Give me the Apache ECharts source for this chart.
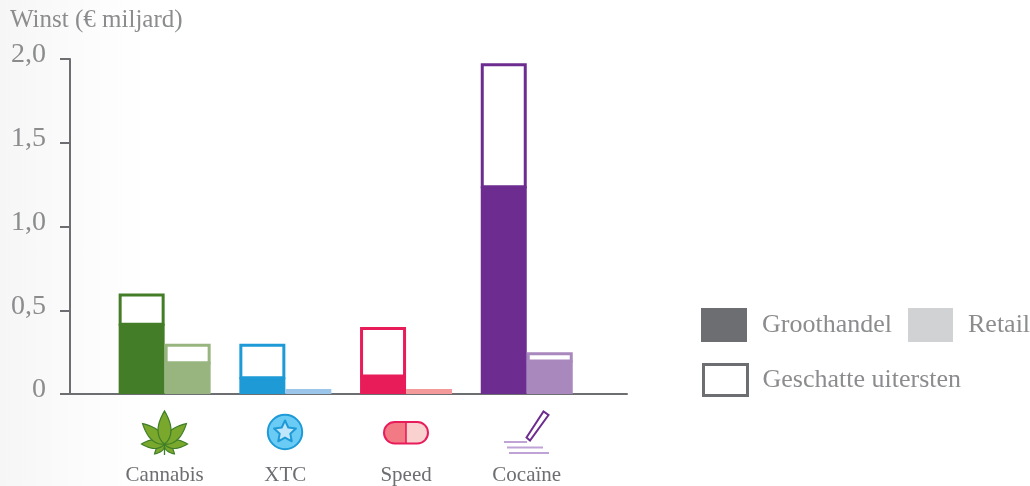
<!DOCTYPE html>
<html><head><meta charset="utf-8">
<style>html,body{margin:0;padding:0;background:linear-gradient(to right,#f6f6f6 0,#fcfcfc 90px,#fff 150px)}#c{width:1030px;height:486px}</style>
<script src="https://cdn.jsdelivr.net/npm/echarts@6/dist/echarts.min.js"></script>
</head><body><div id="c"></div>
<script>
const categories = ['Cannabis','XTC','Speed','Cocaïne'];
const wholesaleLow  = [0.42,0.10,0.11,1.24];
const wholesaleHigh = [0.60,0.30,0.40,1.975];
const retailLow  = [0.19,0.03,0.03,0.20];
const retailHigh = [0.30,null,null,0.25];
const wholesaleColors = ['#447d27','#1e9ad6','#e91c5a','#6d2c8f'];
const retailColors = ['#98b57f','#9cc5ea','#f49a9b','#a988be'];
const yTicks = {0:'0',0.5:'0,5',1:'1,0',1.5:'1,5',2:'2,0'};
const FONT = '"Liberation Serif","DejaVu Serif",serif';
const GREY = '#8b8c8e', AXIS = '#6d6e71', BW = 46;

const chart = echarts.init(document.getElementById('c'), null, {renderer:'canvas'});

const outlineData = [];
categories.forEach((c,i)=>{
  outlineData.push([i,wholesaleLow[i],wholesaleHigh[i],0,wholesaleColors[i]]);
  if (retailHigh[i]!=null) outlineData.push([i,retailLow[i],retailHigh[i],1,retailColors[i]]);
});

function leaf(cx,cy,angle,len,wid){
  const pts=[], a=angle*Math.PI/180, n=14;
  const profile=t=>wid*Math.pow(Math.sin(Math.PI*Math.pow(t,0.8)),0.9);
  for(let k=0;k<=n;k++){const t=k/n;pts.push([-profile(t),-len*t]);}
  for(let k=n-1;k>0;k--){const t=k/n;pts.push([profile(t),-len*t]);}
  const rot=pts.map(([x,y])=>[cx+x*Math.cos(a)-y*Math.sin(a),cy+x*Math.sin(a)+y*Math.cos(a)]);
  return {type:'polygon',shape:{points:rot},style:{fill:'#7aa82d',stroke:'#3f7d28',lineWidth:1.2}};
}
const starPts=[];
for(let k=0;k<10;k++){const r=k%2?5.6:11.5,a=-Math.PI/2+k*Math.PI/5;starPts.push([285+r*Math.cos(a),432+r*Math.sin(a)]);}
const pillPts=[[406,422]];
for(let k=0;k<=16;k++){const a=-Math.PI/2-k*Math.PI/16;pillPts.push([394.7+10.75*Math.cos(a),432.75+10.75*Math.sin(a)]);}
pillPts.push([406,443.5]);
const icons = [
  {type:'line',shape:{x1:164.5,y1:444,x2:164.5,y2:455},style:{stroke:'#3f7d28',lineWidth:1.3}},
  leaf(164.5,444,-135,14,3),leaf(164.5,444,135,14,3),
  leaf(164.5,444,90,23,4.5),leaf(164.5,444,-90,23,4.5),
  leaf(164.5,444,47,30,5.6),leaf(164.5,444,-47,30,5.6),
  leaf(164.5,444,0,33,6.5),
  {type:'circle',shape:{cx:285,cy:432,r:17.2},style:{fill:'#6acbf5',stroke:'#1e9bd7',lineWidth:2}},
  {type:'polygon',shape:{points:starPts},style:{fill:'#bfe6fb',stroke:'#1e9bd7',lineWidth:2,lineJoin:'round'}},
  {type:'rect',shape:{x:384,y:422,width:44,height:21.5,r:10.7},style:{fill:'#f9d2d0'}},
  {type:'polygon',shape:{points:pillPts},style:{fill:'#f27a84'}},
  {type:'rect',shape:{x:384,y:422,width:44,height:21.5,r:10.7},style:{fill:'none',stroke:'#e81c5b',lineWidth:2}},
  {type:'line',shape:{x1:406,y1:422,x2:406,y2:443.5},style:{stroke:'#e81c5b',lineWidth:1.6}},
  {type:'polygon',shape:{points:[[526.5,437.5],[530,440.5],[548.5,415],[543.5,411.5]]},style:{fill:'#fff',stroke:'#6d2c8f',lineWidth:2}},
  {type:'line',shape:{x1:504,y1:442,x2:527,y2:442},style:{stroke:'#c0a3d6',lineWidth:2}},
  {type:'line',shape:{x1:507,y1:447.5,x2:543,y2:447.5},style:{stroke:'#c0a3d6',lineWidth:2}},
  {type:'line',shape:{x1:509,y1:453,x2:549,y2:453},style:{stroke:'#c0a3d6',lineWidth:2}}
];

const legendText = {color:GREY,fontFamily:FONT,fontSize:26,padding:[0,0,0,10]};
function legendAt(left,top,item,w,h){
  return {left,top,orient:'horizontal',selectedMode:false,itemWidth:w,itemHeight:h,data:[item],textStyle:legendText};
}

chart.setOption({
  animation:false,
  title:{text:'Winst (€ miljard)',left:5,top:3,textStyle:{color:GREY,fontFamily:FONT,fontSize:25,fontWeight:'normal'}},
  grid:[
    {left:104.3,width:482.8,top:59,height:335},
    {left:70,width:557,top:59,height:335}
  ],
  xAxis:[
    {type:'category',gridIndex:0,data:categories,boundaryGap:true,axisLine:{show:false},axisTick:{show:false},
     axisLabel:{margin:71,color:AXIS,fontFamily:FONT,fontSize:21,interval:0}},
    {type:'value',gridIndex:1,min:0,max:1,axisLabel:{show:false},axisTick:{show:false},splitLine:{show:false},
     axisLine:{show:true,onZero:false,lineStyle:{color:AXIS,width:2}}}
  ],
  yAxis:[
    {type:'value',gridIndex:0,min:0,max:2,interval:0.5,show:false},
    {type:'value',gridIndex:1,min:0,max:2,interval:0.5,splitLine:{show:false},
     axisLine:{show:true,onZero:false,lineStyle:{color:AXIS,width:2}},
     axisTick:{show:true,length:10,lineStyle:{color:AXIS,width:2}},
     axisLabel:{margin:24,color:GREY,fontFamily:FONT,fontSize:28,verticalAlign:'bottom',lineHeight:8,formatter:v=>yTicks[v]}}
  ],
  legend:[
    legendAt(696,303,{name:'Groothandel',icon:'rect',itemStyle:{color:AXIS}},46,34),
    legendAt(903,303,{name:'Retail',icon:'rect',itemStyle:{color:'#d1d2d4'}},45,34),
    legendAt(697,358,{name:'Geschatte uitersten',icon:'rect',itemStyle:{color:'#fff',borderColor:AXIS,borderWidth:3}},44,31)
  ],
  series:[
    {name:'Groothandel',type:'bar',barWidth:BW,barGap:0,xAxisIndex:0,yAxisIndex:0,
     itemStyle:{color:AXIS},
     data:wholesaleLow.map((v,i)=>({value:v,itemStyle:{color:wholesaleColors[i]}}))},
    {name:'Retail',type:'bar',barWidth:BW,barGap:0,xAxisIndex:0,yAxisIndex:0,
     itemStyle:{color:'#d1d2d4'},
     data:retailLow.map((v,i)=>({value:v,itemStyle:{color:retailColors[i]}}))},
    {name:'Geschatte uitersten',type:'custom',xAxisIndex:0,yAxisIndex:0,z:3,
     data:outlineData,
     encode:{x:0,y:[1,2]},
     renderItem(params,api){
       const c=api.coord([api.value(0),0])[0];
       const yLow=api.coord([api.value(0),api.value(1)])[1];
       const yHigh=api.coord([api.value(0),api.value(2)])[1];
       const side=api.value(3), col=outlineData[params.dataIndex][4], lw=3;
       const x=side===0?c-BW:c;
       return {type:'rect',shape:{x:x+lw/2,y:yHigh+lw/2,width:BW-lw,height:yLow-yHigh-lw/2+0.5},
         style:{fill:'#fff',stroke:col,lineWidth:lw}};
     }}
  ],
  graphic:{elements:[{type:'group',silent:true,children:icons}]}
});
</script></body></html>
